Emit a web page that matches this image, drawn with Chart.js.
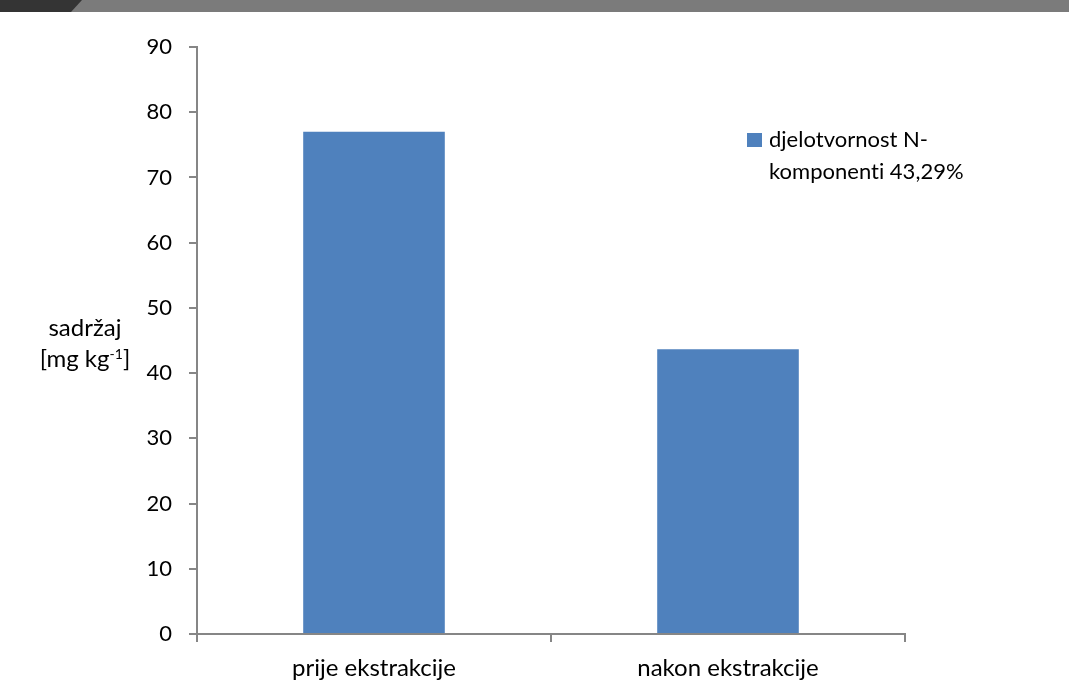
<!DOCTYPE html>
<html>
<head>
<meta charset="utf-8">
<script src="https://cdn.jsdelivr.net/npm/chart.js@4/dist/chart.umd.min.js"></script>
<style>
  html, body { margin: 0; padding: 0; background: #ffffff; }
  #wrap { width: 1069px; height: 681px; position: relative; }
</style>
</head>
<body>
<div id="wrap"><canvas id="c" width="1069" height="681"></canvas></div>
<script>
// Categories and measured content (mg/kg)
const categories = ['prije ekstrakcije', 'nakon ekstrakcije'];
const values = [77, 43.67];
const seriesLines = ['djelotvornost N-', 'komponenti 43,29%'];
const yTitleLines = ['sadržaj', '[mg kg', '-1', ']'];
const yMin = 0, yMax = 90, yStep = 10;

const FONT = 'Lato, "Noto Sans", sans-serif';
const TICK_SIZE = 22;
const LABEL_SIZE = 24;
const LEGEND_SIZE = 22;
const BAR_COLOR = '#4f81bd';
const AXIS_COLOR = '#868686';

// Header band plus custom legend and y-axis title
const decorations = {
  id: 'decorations',
  beforeDraw(chart) {
    const ctx = chart.ctx;
    ctx.save();
    ctx.fillStyle = '#ffffff';
    ctx.fillRect(0, 0, chart.width, chart.height);
    ctx.fillStyle = '#7b7b7b';
    ctx.fillRect(0, 0, chart.width, 12);
    ctx.fillStyle = '#343434';
    ctx.beginPath();
    ctx.moveTo(0, 0);
    ctx.lineTo(82, 0);
    ctx.lineTo(71, 12);
    ctx.lineTo(0, 12);
    ctx.closePath();
    ctx.fill();
    ctx.restore();
  },
  afterDraw(chart) {
    const ctx = chart.ctx;
    ctx.save();
    ctx.textBaseline = 'alphabetic';
    // a tiny letter spacing keeps "ti" from being drawn as a ligature
    if ('letterSpacing' in ctx) ctx.letterSpacing = '0.01px';

    // legend
    ctx.fillStyle = BAR_COLOR;
    ctx.fillRect(747, 133, 15, 14);
    ctx.fillStyle = '#000000';
    ctx.font = LEGEND_SIZE + 'px ' + FONT;
    ctx.textAlign = 'left';
    seriesLines.forEach((line, i) => ctx.fillText(line, 769, 147 + i * 31.5));

    // y-axis title with superscript
    const cx = 85;
    const big = LABEL_SIZE + 'px ' + FONT;
    const small = Math.round(LABEL_SIZE * 0.6) + 'px ' + FONT;
    ctx.font = big;
    ctx.textAlign = 'center';
    ctx.fillText(yTitleLines[0], cx, 336);
    const w1 = ctx.measureText(yTitleLines[1]).width;
    const w3 = ctx.measureText(yTitleLines[3]).width;
    ctx.font = small;
    const w2 = ctx.measureText(yTitleLines[2]).width;
    let x = cx - (w1 + w2 + w3) / 2;
    ctx.textAlign = 'left';
    ctx.font = big;
    ctx.fillText(yTitleLines[1], x, 367);
    x += w1;
    ctx.font = small;
    ctx.fillText(yTitleLines[2], x, 359);
    x += w2;
    ctx.font = big;
    ctx.fillText(yTitleLines[3], x, 367);
    ctx.restore();
  }
};

new Chart(document.getElementById('c'), {
  type: 'bar',
  data: {
    labels: categories,
    datasets: [{
      label: seriesLines.join(' '),
      data: values,
      backgroundColor: BAR_COLOR,
      borderWidth: 0,
      categoryPercentage: 1,
      barPercentage: 0.4
    }]
  },
  options: {
    responsive: false,
    animation: false,
    devicePixelRatio: 1,
    layout: { padding: { top: 47, right: 164, bottom: 0, left: 0 } },
    plugins: {
      legend: { display: false },
      tooltip: { enabled: false }
    },
    scales: {
      x: {
        offset: true,
        grid: {
          offset: true,
          drawOnChartArea: false,
          drawTicks: true,
          tickLength: 8,
          tickColor: AXIS_COLOR,
          lineWidth: 2
        },
        border: { color: AXIS_COLOR, width: 2 },
        ticks: {
          color: '#000000',
          font: { family: FONT, size: LABEL_SIZE },
          padding: 12,
          maxRotation: 0
        },
        afterFit(scale) { scale.height = 47; }
      },
      y: {
        min: yMin,
        max: yMax,
        grid: {
          drawOnChartArea: false,
          drawTicks: true,
          tickLength: 8,
          tickColor: AXIS_COLOR,
          lineWidth: 2
        },
        border: { color: AXIS_COLOR, width: 2 },
        ticks: {
          stepSize: yStep,
          color: '#000000',
          font: { family: FONT, size: TICK_SIZE },
          padding: 17
        },
        afterFit(scale) { scale.width = 197; }
      }
    }
  },
  plugins: [decorations]
});
</script>
</body>
</html>
